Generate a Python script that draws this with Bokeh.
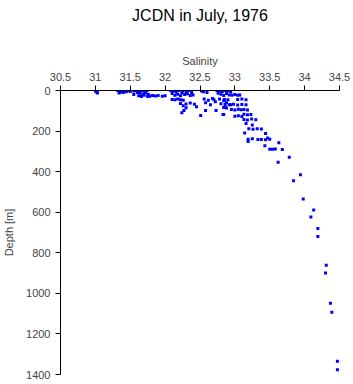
from bokeh.plotting import figure
from bokeh.models import Range1d, FixedTicker, LinearAxis
from bokeh.embed import file_html
from bokeh.resources import INLINE

salinity = [
    31.00, 31.02, 31.03, 31.01,
    31.32, 31.35, 31.38, 31.42, 31.45, 31.48, 31.36, 31.40, 31.44, 31.50, 31.34, 31.55,
    31.58, 31.62, 31.66, 31.70, 31.74, 31.60, 31.64, 31.68, 31.72, 31.76, 31.62, 31.66, 31.70, 31.78, 31.55,
    31.82, 31.86, 31.90, 31.96, 32.00, 31.75,
    32.08, 32.12, 32.16, 32.20, 32.25, 32.30, 32.34, 32.38, 32.10, 32.18, 32.24, 32.28, 32.32, 32.40, 32.14, 32.22, 32.36,
    32.10, 32.14, 32.18, 32.22, 32.26,
    32.22, 32.30, 32.36, 32.42, 32.26,
    32.27, 32.24, 32.30,
    32.52, 32.55, 32.60,
    32.56, 32.62, 32.68, 32.58, 32.65, 32.72, 32.70,
    32.51, 32.58, 32.73, 32.45,
    32.74, 32.78, 32.82, 32.86, 32.90, 32.94, 32.76, 32.80, 32.88, 32.92, 32.84,
    32.78, 32.84, 32.90, 32.80, 32.88, 32.94, 32.86,
    32.83,
    32.96, 33.00, 33.04, 33.07,
    32.85, 33.04, 33.10, 33.16,
    32.86, 32.92, 32.98, 33.04, 33.10, 33.16,
    32.84, 32.88,
    32.95, 33.00, 33.05, 33.09, 33.13, 33.18,
    32.84, 33.13, 33.18, 33.23,
    33.00, 33.05, 33.10,
    33.13, 33.18, 33.24, 33.30,
    33.16, 33.25,
    33.20, 33.26, 33.32, 33.38,
    33.14, 33.44,
    33.19, 33.25, 33.33, 33.38, 33.44, 33.50, 33.47,
    33.19, 33.43,
    33.50, 33.54, 33.58, 33.68,
    33.63, 33.78, 33.62, 33.94,
    33.84, 33.98, 34.13, 34.09, 34.19, 34.19,
    34.31, 34.30, 34.37, 34.39, 34.47, 34.47,
]
depth = [
    0, 4, 12, 8,
    0, 0, 2, 0, 3, 0, 8, 10, 6, 5, 12, 2,
    0, 2, 0, 4, 1, 10, 14, 18, 12, 20, 26, 30, 24, 28, 20,
    25, 27, 25, 28, 26, 30,
    0, 3, 8, 0, 2, 5, 0, 10, 15, 18, 12, 20, 16, 22, 24, 26, 25,
    44, 46, 42, 45, 48,
    64, 66, 62, 68, 75,
    99, 110, 85,
    3, 6, 10,
    42, 48, 40, 60, 70, 55, 45,
    123, 99, 99, 80,
    0, 2, 5, 0, 3, 8, 14, 18, 15, 22, 25,
    42, 50, 46, 65, 60, 70, 80,
    118,
    23, 20, 24, 22,
    44, 44, 42, 46,
    69, 70, 68, 71, 69, 70,
    84, 86,
    94, 96, 92, 95, 94, 96,
    118, 117, 120, 118,
    127, 125, 128,
    143, 145, 141, 144,
    163, 170,
    189, 191, 188, 190,
    209, 212,
    240, 238, 241, 242, 243, 240, 234,
    252, 272,
    289, 290, 288, 291,
    257, 329, 354, 415,
    445, 535, 589, 624, 680, 720,
    861, 900, 1049, 1093, 1335, 1377,
]

x_ticks = [30.5, 31, 31.5, 32, 32.5, 33, 33.5, 34, 34.5]
y_ticks = [0, 200, 400, 600, 800, 1000, 1200, 1400]
title_text = "JCDN in July, 1976"

FONT = "Liberation Sans"

p = figure(width=353, height=384, output_backend="svg", toolbar_location=None,
           x_range=Range1d(30.5, 34.5), y_range=Range1d(1400, 0),
           x_axis_location="above",
           min_border_left=53, min_border_right=14, min_border_top=90, min_border_bottom=10)
p.outline_line_color = None
p.xgrid.visible = False
p.ygrid.visible = False
p.background_fill_color = "white"
p.border_fill_color = "white"

for ax in (p.xaxis[0], p.yaxis[0]):
    ax.axis_label_text_font = FONT
    ax.axis_label_text_font_size = "11px"
    ax.axis_label_text_font_style = "normal"
    ax.major_label_text_font = FONT
    ax.major_label_text_font_size = "11px"
    ax.major_tick_out = 5
    ax.major_tick_in = 0
    ax.minor_tick_out = 0
    ax.minor_tick_in = 0
    ax.axis_line_color = "black"
    ax.major_tick_line_color = "black"

p.xaxis[0].ticker = FixedTicker(ticks=x_ticks)
p.yaxis[0].ticker = FixedTicker(ticks=y_ticks)
p.xaxis[0].axis_label = "Salinity"
p.yaxis[0].axis_label = "Depth [m]"
p.xaxis[0].axis_label_standoff = 3
p.yaxis[0].axis_label_standoff = 8

# Title drawn as the label of a bare axis stacked above the salinity axis
title_axis = LinearAxis(ticker=FixedTicker(ticks=[]), axis_label=title_text,
                        axis_line_color=None, major_tick_line_color=None,
                        minor_tick_line_color=None, major_tick_out=0, major_tick_in=0,
                        minor_tick_out=0, minor_tick_in=0, major_label_standoff=0,
                        axis_label_standoff=28, axis_label_text_font=FONT,
                        axis_label_text_font_size="16px", axis_label_text_font_style="normal",
                        axis_label_text_color="black")
p.add_layout(title_axis, "above")

p.scatter(salinity, depth, marker="square", size=3, color="#0000ff", line_width=0)

open("out.html", "w").write(file_html(p, INLINE))
